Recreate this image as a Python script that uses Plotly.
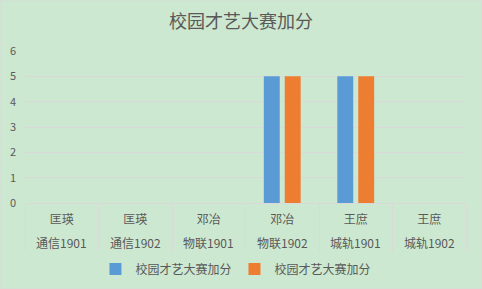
import plotly.graph_objects as go

names = ["匡瑛", "匡瑛", "邓冶", "邓冶", "王庶", "王庶"]
classes = ["通信1901", "通信1902", "物联1901", "物联1902", "城轨1901", "城轨1902"]
series_a = [0, 0, 0, 5, 5, 0]
series_b = [0, 0, 0, 5, 5, 0]
series_names = ["校园才艺大赛加分", "校园才艺大赛加分"]
title = "校园才艺大赛加分"

font = "Noto Sans CJK SC, Noto Sans, sans-serif"

fig = go.Figure()
fig.add_trace(go.Bar(x=classes, y=series_a, name=series_names[0], marker_color="#5b9bd5", marker_line_width=0))
fig.add_trace(go.Bar(x=classes, y=series_b, name=series_names[1], marker_color="#ed7d31", marker_line_width=0))

# second row of category labels, placed on the category axis positions
annotations = [dict(x=c, xref="x", y=0, yref="paper", yanchor="middle", yshift=-39,
                    text=c, showarrow=False, font=dict(size=12, color="#595959", family=font))
               for c in classes]

fig.update_layout(
    width=482, height=289,
    margin=dict(l=25, r=16, t=51, b=86, autoexpand=False),
    paper_bgcolor="#cde8d0", plot_bgcolor="#cde8d0",
    barmode="group", bargap=0.43, bargroupgap=0.24,
    font=dict(family=font, color="#595959", size=12),
    title=dict(text=title, x=0.5, xanchor="center", y=0.925, yanchor="middle",
               font=dict(size=18, color="#595959", family=font)),
    legend=dict(orientation="h", x=0.475, xanchor="center", yref="container", y=20/289, yanchor="middle",
                font=dict(size=12, color="#595959"), itemwidth=30, entrywidth=94),
    xaxis=dict(type="category", categoryarray=classes, categoryorder="array",
               tickvals=classes, ticktext=names, automargin=False,
               showline=True, linecolor="#d9d9d9", linewidth=1,
               ticks="outside", tickson="boundaries", ticklen=47, tickcolor="#d9d9d9", tickwidth=1,
               ticklabelstandoff=6, tickfont=dict(size=12, color="#595959")),
    yaxis=dict(range=[0, 6], dtick=1, showgrid=True, gridcolor="#d9d9d9", zeroline=False,
               showline=False, automargin=False,
               tickfont=dict(size=11, color="#595959"), ticklabelstandoff=8),
    annotations=annotations,
    shapes=[dict(type="rect", xref="paper", yref="paper", x0=-25/441, x1=1+16/441,
                 y0=-86/152, y1=1+51/152, line=dict(color="#d9d9d9", width=1))],
)

fig.write_html("out.html")
